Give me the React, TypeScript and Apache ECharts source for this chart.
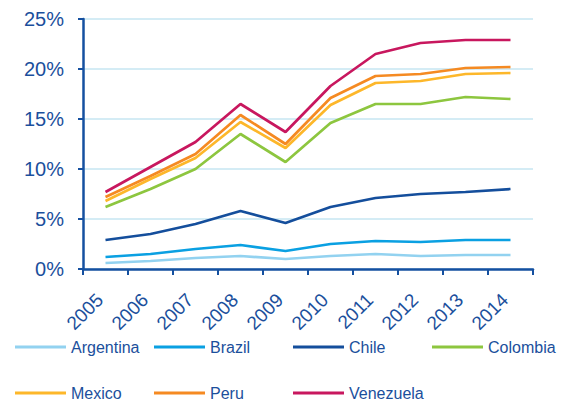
import React, { useEffect, useRef } from "react";
import * as echarts from "echarts";

const years = ["2005", "2006", "2007", "2008", "2009", "2010", "2011", "2012", "2013", "2014"];
const argentina = [0.6, 0.8, 1.1, 1.3, 1.0, 1.3, 1.5, 1.3, 1.4, 1.4];
const brazil = [1.2, 1.5, 2.0, 2.4, 1.8, 2.5, 2.8, 2.7, 2.9, 2.9];
const chile = [2.9, 3.5, 4.5, 5.8, 4.6, 6.2, 7.1, 7.5, 7.7, 8.0];
const colombia = [6.2, 8.0, 10.0, 13.5, 10.7, 14.6, 16.5, 16.5, 17.2, 17.0];
const mexico = [6.8, 9.0, 11.1, 14.7, 12.1, 16.4, 18.6, 18.8, 19.5, 19.6];
const peru = [7.2, 9.3, 11.5, 15.4, 12.5, 17.1, 19.3, 19.5, 20.1, 20.2];
const venezuela = [7.7, 10.2, 12.7, 16.5, 13.7, 18.3, 21.5, 22.6, 22.9, 22.9];
const yTicks = [0, 5, 10, 15, 20, 25];

const seriesDefs = [
  { name: "Argentina", data: argentina, color: "#92D2F0" },
  { name: "Brazil", data: brazil, color: "#0AA0E2" },
  { name: "Chile", data: chile, color: "#144E9C" },
  { name: "Colombia", data: colombia, color: "#8DC63F" },
  { name: "Mexico", data: mexico, color: "#FDB72A" },
  { name: "Peru", data: peru, color: "#F58A22" },
  { name: "Venezuela", data: venezuela, color: "#C8175E" },
];

const TEXT = "#1B4F9C";
const AXIS = "#1550A0";

export default function App() {
  const ref = useRef<HTMLDivElement>(null);
  useEffect(() => {
    if (!ref.current) return;
    const chart = echarts.init(ref.current, null, { renderer: "svg" });
    const cols = [15, 154, 293, 432];
    const rows = [339, 385];
    const legends = seriesDefs.map((s, i) => ({
      show: true,
      left: cols[i % 4],
      top: rows[Math.floor(i / 4)],
      data: [s.name],
      icon: "rect",
      itemWidth: 51,
      itemHeight: 3,
      padding: 0,
      textStyle: {
        color: TEXT,
        fontSize: 16,
        fontFamily: "'Liberation Sans', Arial, sans-serif",
      },
    }));
    chart.setOption({
      animation: false,
      backgroundColor: "#ffffff",
      grid: { left: 83, top: 19, right: 37, bottom: 134, containLabel: false },
      legend: legends,
      xAxis: {
        type: "category",
        data: years,
        boundaryGap: true,
        axisLine: { lineStyle: { color: AXIS, width: 2.5 } },
        axisTick: { show: true, length: 6, lineStyle: { color: AXIS, width: 2 } },
        axisLabel: {
          rotate: 45,
          margin: 22,
          padding: [8, 8, 0, 0],
          color: TEXT,
          fontSize: 19,
          fontFamily: "'Liberation Sans', Arial, sans-serif",
        },
        splitLine: { show: false },
      },
      yAxis: {
        type: "value",
        min: yTicks[0],
        max: yTicks[yTicks.length - 1],
        interval: 5,
        axisLine: { show: true, lineStyle: { color: AXIS, width: 2.5 } },
        axisTick: { show: true, length: 5, lineStyle: { color: AXIS, width: 2 } },
        axisLabel: {
          formatter: "{value}%",
          margin: 19,
          color: TEXT,
          fontSize: 20,
          fontFamily: "'Liberation Sans', Arial, sans-serif",
        },
        splitLine: { show: true, lineStyle: { color: "#C6E6F2", width: 1.5 } },
      },
      series: seriesDefs.map((s) => ({
        name: s.name,
        type: "line",
        data: s.data,
        showSymbol: false,
        symbol: "none",
        color: s.color,
        lineStyle: { color: s.color, width: 2.7 },
      })),
    });
    return () => chart.dispose();
  }, []);
  return (
    <div
      ref={ref}
      style={{ position: "absolute", left: 0, top: 0, width: 570, height: 403 }}
    />
  );
}
